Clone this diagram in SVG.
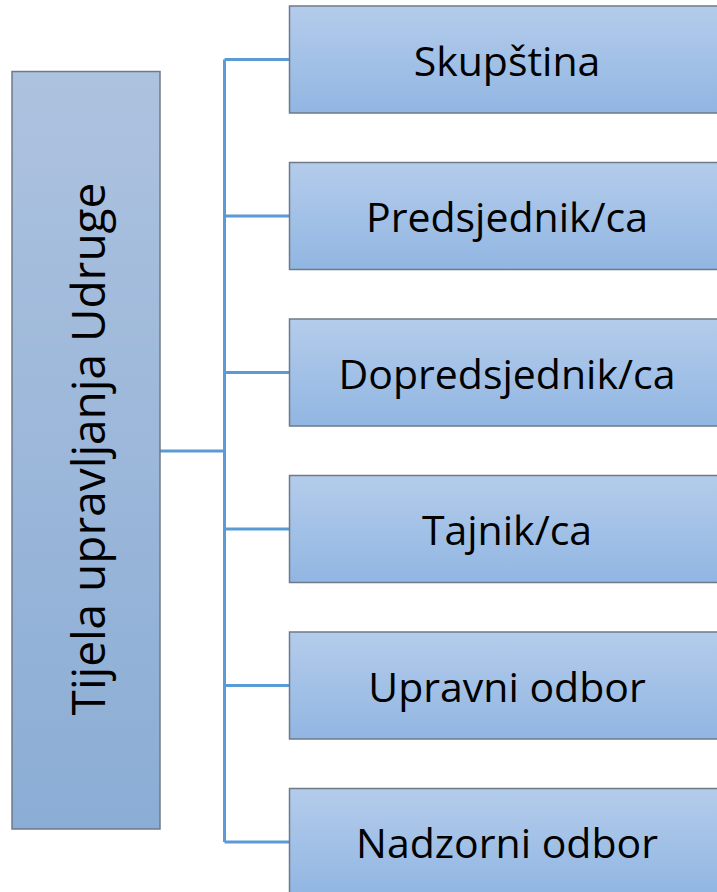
<svg xmlns="http://www.w3.org/2000/svg" width="717" height="892" viewBox="0 0 717 892">
<defs>
<linearGradient id="gR" x1="0" y1="0" x2="0" y2="1">
<stop offset="0" stop-color="#b4cceb"/>
<stop offset="1" stop-color="#91b6e2"/>
</linearGradient>
<linearGradient id="gL" x1="0" y1="0" x2="0" y2="1">
<stop offset="0" stop-color="#adc2df"/>
<stop offset="1" stop-color="#8badd5"/>
</linearGradient>
<style>
.box{stroke:#6e7a88;stroke-width:1.5}
.lbl{font-family:"Open Sans","DejaVu Sans",sans-serif;font-size:41px;fill:#000;text-anchor:middle}
.conn{fill:none;stroke:#5b9bd5;stroke-width:3}
</style>
</defs>
<rect width="717" height="892" fill="#fff"/>
<g id="connectors">
<path class="conn" d="M160 451H224.5M224.5 59.5V842M224.5 59.5H289.5M224.5 216H289.5M224.5 372.5H289.5M224.5 529H289.5M224.5 685.5H289.5M224.5 842H289.5"/>
</g>
<g id="root">
<rect class="box" x="12" y="71.5" width="148" height="757.5" fill="url(#gL)"/>
<text class="lbl" style="font-size:46px" transform="translate(104.5 449) rotate(-90)">Tijela upravljanja Udruge</text>
</g>
<g id="n1">
<rect class="box" x="289.5" y="6" width="440" height="107" fill="url(#gR)"/>
<text class="lbl" x="507" y="75.5">Skupština</text>
</g>
<g id="n2">
<rect class="box" x="289.5" y="162.5" width="440" height="107" fill="url(#gR)"/>
<text class="lbl" x="507" y="232">Predsjednik/ca</text>
</g>
<g id="n3">
<rect class="box" x="289.5" y="319" width="440" height="107" fill="url(#gR)"/>
<text class="lbl" x="507" y="388.5">Dopredsjednik/ca</text>
</g>
<g id="n4">
<rect class="box" x="289.5" y="475.5" width="440" height="107" fill="url(#gR)"/>
<text class="lbl" x="507" y="545">Tajnik/ca</text>
</g>
<g id="n5">
<rect class="box" x="289.5" y="632" width="440" height="107" fill="url(#gR)"/>
<text class="lbl" x="507" y="701.5">Upravni odbor</text>
</g>
<g id="n6">
<rect class="box" x="289.5" y="788.5" width="440" height="107" fill="url(#gR)"/>
<text class="lbl" x="507" y="858">Nadzorni odbor</text>
</g>
</svg>
